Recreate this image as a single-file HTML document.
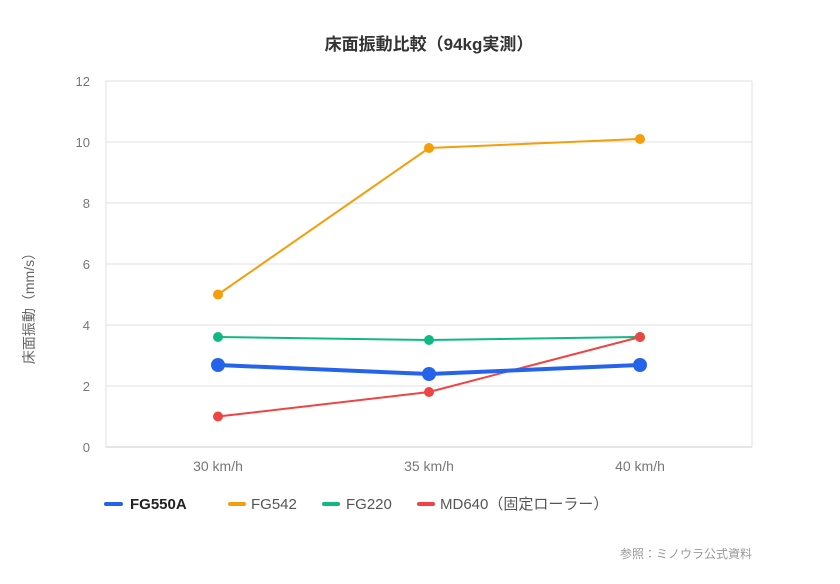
<!DOCTYPE html>
<html><head><meta charset="utf-8"><style>
body{margin:0;background:#fff;}
svg text{font-family:"Liberation Sans","Noto Sans CJK JP",sans-serif;}
</style></head><body>
<svg width="840" height="579" xmlns="http://www.w3.org/2000/svg">
<rect width="840" height="579" fill="#fff"/>
<text x="429" y="50" text-anchor="middle" font-size="17" font-weight="bold" fill="#333">床面振動比較（94kg実測）</text>
<g stroke="#e0e0e0" stroke-width="1">
<line x1="106" x2="752" y1="81" y2="81"/>
<line x1="106" x2="752" y1="142" y2="142"/>
<line x1="106" x2="752" y1="203" y2="203"/>
<line x1="106" x2="752" y1="264" y2="264"/>
<line x1="106" x2="752" y1="325" y2="325"/>
<line x1="106" x2="752" y1="386" y2="386"/>
<line x1="106" x2="106" y1="81" y2="447"/>
<line x1="752" x2="752" y1="81" y2="447"/>
</g>
<line x1="106" x2="752" y1="447" y2="447" stroke="#ccc"/>
<g font-size="13" fill="#777" text-anchor="end">
<text x="90" y="86">12</text><text x="90" y="147">10</text><text x="90" y="208">8</text>
<text x="90" y="269">6</text><text x="90" y="330">4</text><text x="90" y="391">2</text><text x="90" y="452">0</text>
</g>
<g font-size="14" fill="#777" text-anchor="middle">
<text x="218" y="471">30 km/h</text><text x="429" y="471">35 km/h</text><text x="640" y="471">40 km/h</text>
</g>
<text transform="translate(34,305) rotate(-90)" text-anchor="middle" font-size="14" fill="#666">床面振動（mm/s）</text>
<g fill="none" stroke-width="2">
<polyline points="218,294.5 429,148 640,139" stroke="#f59e0b"/>
<polyline points="218,337 429,340 640,337" stroke="#10b981"/>
<polyline points="218,416.5 429,392 640,337" stroke="#ef4444"/>
<polyline points="218,365 429,374 640,365" stroke="#2563eb" stroke-width="4"/>
</g>
<g fill="#f59e0b"><circle cx="218" cy="294.5" r="5"/><circle cx="429" cy="148" r="5"/><circle cx="640" cy="139" r="5"/></g>
<g fill="#10b981"><circle cx="218" cy="337" r="5"/><circle cx="429" cy="340" r="5"/><circle cx="640" cy="337" r="5"/></g>
<g fill="#ef4444"><circle cx="218" cy="416.5" r="5"/><circle cx="429" cy="392" r="5"/><circle cx="640" cy="337" r="5"/></g>
<g fill="#2563eb"><circle cx="218" cy="365" r="7"/><circle cx="429" cy="374" r="7"/><circle cx="640" cy="365" r="7"/></g>
<g stroke-width="4" stroke-linecap="round">
<line x1="106" x2="121" y1="504" y2="504" stroke="#2563eb"/>
<line x1="230" x2="244" y1="504" y2="504" stroke="#f59e0b"/>
<line x1="324" x2="338" y1="504" y2="504" stroke="#10b981"/>
<line x1="419" x2="433" y1="504" y2="504" stroke="#ef4444"/>
</g>
<g font-size="15" fill="#555">
<text x="130" y="509" font-weight="bold" fill="#222">FG550A</text>
<text x="251" y="509">FG542</text>
<text x="346" y="509">FG220</text>
<text x="440" y="509">MD640（固定ローラー）</text>
</g>
<text x="752" y="558" text-anchor="end" font-size="12" fill="#999">参照：ミノウラ公式資料</text>
</svg>
</body></html>
